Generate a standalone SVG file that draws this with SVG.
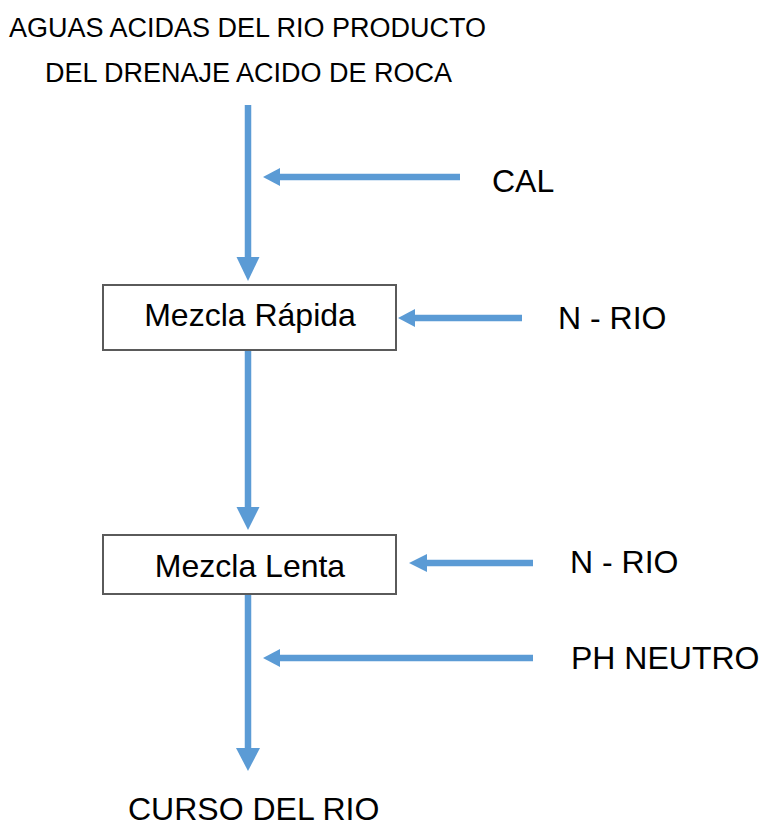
<svg xmlns="http://www.w3.org/2000/svg" width="760" height="827" viewBox="0 0 760 827">
<style>
.t{font-family:"Liberation Sans",Arial,sans-serif;fill:#000}
.big{font-size:32px}
.top{font-size:27px}
.box{fill:#fff;stroke:#5a5a5a;stroke-width:2}
.ln{stroke:#5b9bd5;stroke-width:6.5;fill:none}
.hd{fill:#5b9bd5}
</style>
<rect width="760" height="827" fill="#fff"/>
<g id="connectors">
<line class="ln" x1="248" y1="105" x2="248" y2="260"/>
<polygon class="hd" points="236.5,257 259.5,257 248,281"/>
<line class="ln" x1="460" y1="177" x2="278" y2="177"/>
<polygon class="hd" points="263,177 280,168 280,186"/>
<line class="ln" x1="522" y1="318" x2="413" y2="318"/>
<polygon class="hd" points="398,318 415,309 415,327"/>
<line class="ln" x1="248" y1="351" x2="248" y2="510"/>
<polygon class="hd" points="236.5,507 259.5,507 248,530"/>
<line class="ln" x1="533" y1="563" x2="425" y2="563"/>
<polygon class="hd" points="409,563 427,554 427,572"/>
<line class="ln" x1="248" y1="595" x2="248" y2="750"/>
<polygon class="hd" points="236,748 260,748 248,771"/>
<line class="ln" x1="533" y1="658" x2="278" y2="658"/>
<polygon class="hd" points="263,658 280,649 280,667"/>
</g>
<g id="source">
<text class="t top" x="9" y="37">AGUAS ACIDAS DEL RIO PRODUCTO</text>
<text class="t top" x="45" y="82">DEL DRENAJE ACIDO DE ROCA</text>
</g>
<g id="cal"><text class="t big" x="492" y="192">CAL</text></g>
<g id="mezcla-rapida">
<rect class="box" x="103" y="285" width="293" height="65"/>
<text class="t big" x="250" y="326" text-anchor="middle">Mezcla Rápida</text>
</g>
<g id="nrio1"><text class="t big" x="558" y="329">N - RIO</text></g>
<g id="mezcla-lenta">
<rect class="box" x="103" y="535" width="293" height="59"/>
<text class="t big" x="250" y="577" text-anchor="middle">Mezcla Lenta</text>
</g>
<g id="nrio2"><text class="t big" x="570" y="573">N - RIO</text></g>
<g id="ph"><text class="t big" x="571" y="669">PH NEUTRO</text></g>
<g id="curso"><text class="t big" x="128" y="820">CURSO DEL RIO</text></g>
</svg>
